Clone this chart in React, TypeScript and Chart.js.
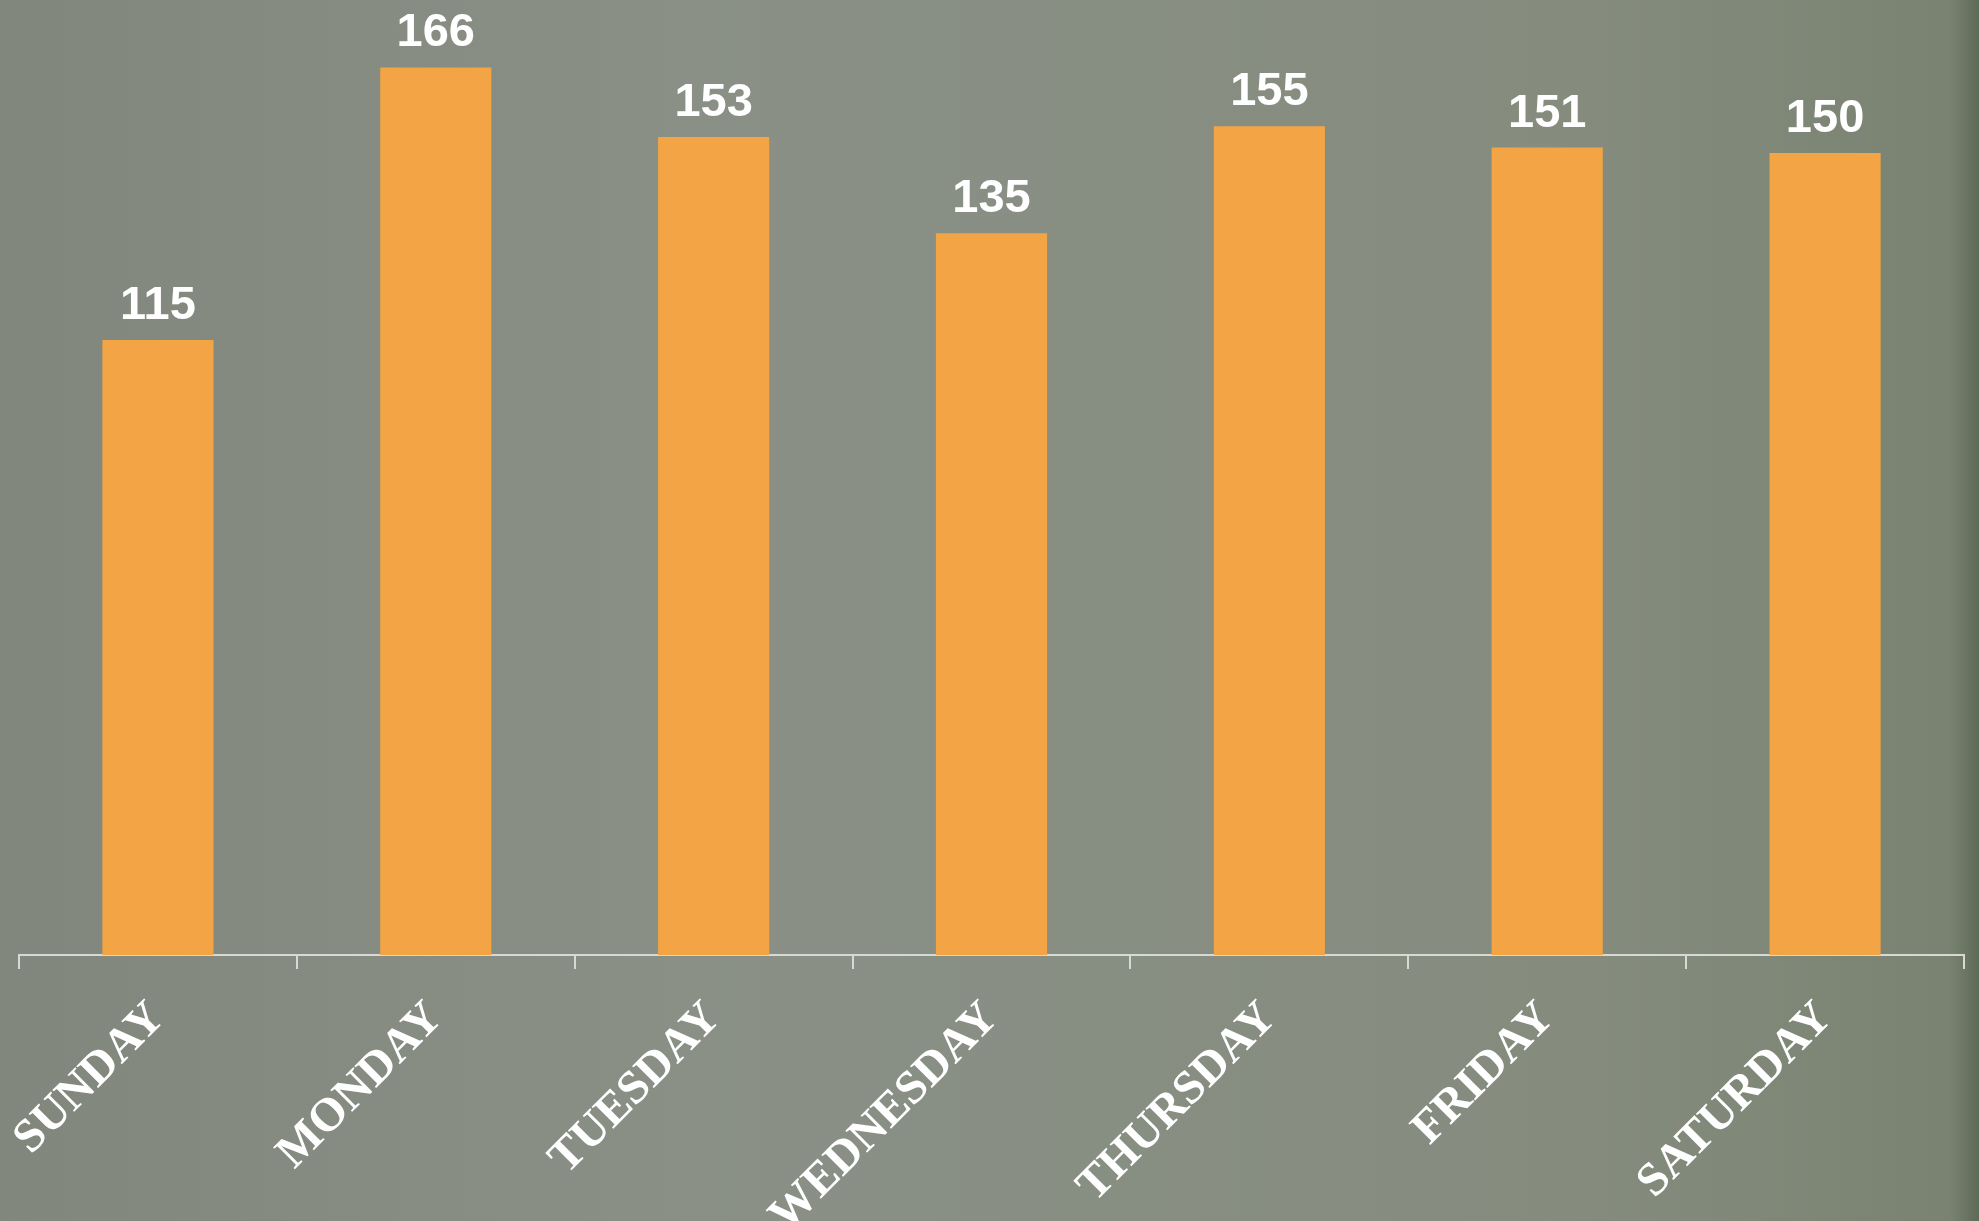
import React, { useEffect, useRef } from "react";
import { Chart, registerables } from "chart.js";

Chart.register(...registerables);

const categories = ["SUNDAY", "MONDAY", "TUESDAY", "WEDNESDAY", "THURSDAY", "FRIDAY", "SATURDAY"];
const values = [115, 166, 153, 135, 155, 151, 150];
const yMin = 0;
const yMax = 170;

const W = 1979;
const H = 1221;

const backgroundPlugin = {
  id: "bgFill",
  beforeDraw(chart: any) {
    const { ctx, width, height } = chart;
    ctx.save();
    const g = ctx.createLinearGradient(0, 0, width, 0);
    g.addColorStop(0, "#81877c");
    g.addColorStop(0.35, "#8a9086");
    g.addColorStop(0.8, "#858c7e");
    g.addColorStop(0.985, "#7a8372");
    g.addColorStop(1, "#5d6a55");
    ctx.fillStyle = g;
    ctx.fillRect(0, 0, width, height);
    ctx.restore();
  },
};

const valueLabelPlugin = {
  id: "valueLabels",
  afterDatasetsDraw(chart: any) {
    const { ctx } = chart;
    const meta = chart.getDatasetMeta(0);
    const data = chart.data.datasets[0].data as number[];
    ctx.save();
    ctx.fillStyle = "#ffffff";
    ctx.font = "bold 47px 'Liberation Sans', Arial, sans-serif";
    ctx.textAlign = "center";
    ctx.textBaseline = "alphabetic";
    meta.data.forEach((bar: any, i: number) => {
      ctx.fillText(String(data[i]), bar.x, bar.y - 21);
    });
    ctx.restore();
  },
};

export default function App() {
  const ref = useRef<HTMLCanvasElement | null>(null);
  useEffect(() => {
    if (!ref.current) return;
    const chart = new Chart(ref.current, {
      type: "bar",
      data: {
        labels: categories,
        datasets: [
          {
            data: values,
            backgroundColor: "#f3a445",
            borderWidth: 0,
            barPercentage: 0.4,
            categoryPercentage: 1,
          },
        ],
      },
      options: {
        animation: false,
        responsive: true,
        maintainAspectRatio: false,
        layout: { padding: { top: 46, left: 19, right: 15, bottom: 0 } },
        plugins: {
          legend: { display: false },
          tooltip: { enabled: false },
        },
        scales: {
          x: {
            offset: true,
            grid: {
              offset: true,
              drawOnChartArea: false,
              drawTicks: true,
              tickLength: 14,
              color: "#d8d8d4",
              lineWidth: 2,
            },
            border: { display: true, color: "#d8d8d4", width: 2 },
            ticks: {
              autoSkip: false,
              minRotation: 45,
              maxRotation: 45,
              padding: 22,
              color: "#ffffff",
              font: { family: "'Liberation Serif', 'Times New Roman', serif", size: 47, weight: "bold" },
            },
            afterFit: (scale: any) => {
              scale.height = H - 955;
              scale.paddingLeft = 0;
              scale.paddingRight = 0;
            },
          },
          y: {
            display: false,
            min: yMin,
            max: yMax,
          },
        },
      },
      plugins: [backgroundPlugin, valueLabelPlugin],
    });
    return () => chart.destroy();
  }, []);
  return (
    <div style={{ position: "absolute", left: 0, top: 0, width: W, height: H, overflow: "hidden" }}>
      <canvas ref={ref} style={{ width: W, height: H }} />
    </div>
  );
}
